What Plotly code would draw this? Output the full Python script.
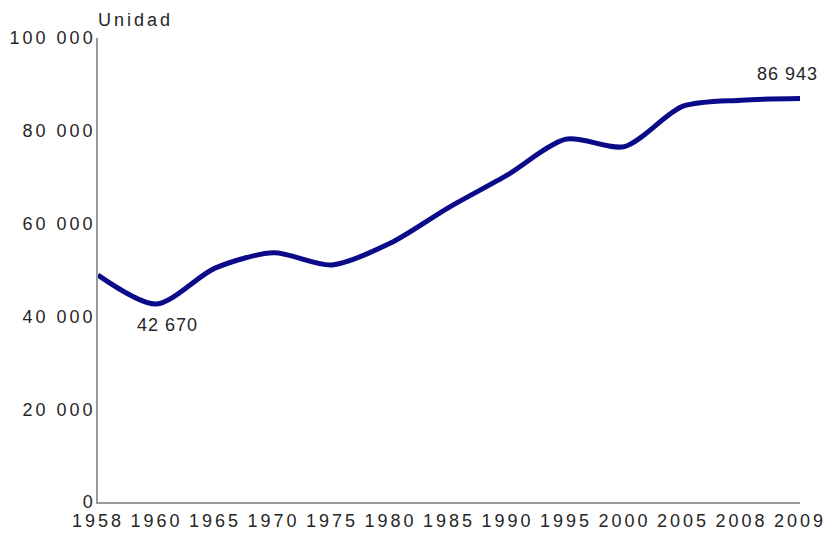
import plotly.graph_objects as go

FONT = "Liberation Sans, Arial, sans-serif"
TEXT = "#262626"

years = ["1958", "1960", "1965", "1970", "1975", "1980", "1985",
         "1990", "1995", "2000", "2005", "2008", "2009"]
units = [48900, 42670, 50400, 53700, 51100, 55800, 63500,
         70500, 78200, 76600, 85300, 86600, 86943]

y_ticks = [0, 20000, 40000, 60000, 80000, 100000]
y_labels = ["0", "20 000", "40 000", "60 000", "80 000", "100 000"]


def spaced(s: str, px: int = 3) -> str:
    return f'<span style="letter-spacing:{px}px">{s}</span>'


fig = go.Figure(
    go.Scatter(
        x=years, y=units,
        mode="lines",
        line=dict(color="#0b0b8a", width=5, shape="spline", smoothing=0.8),
        cliponaxis=False,
        hoverinfo="x+y",
    )
)

# category axis: annotations placed by category index
fig.add_annotation(x=1, y=units[1], text=spaced("42 670", 1),
                   showarrow=False, xshift=11, yshift=-21)
fig.add_annotation(x=len(years) - 1, y=units[-1], text=spaced("86 943", 1),
                   showarrow=False, xshift=-13, yshift=25)
fig.add_annotation(x=0, y=1, xref="paper", yref="paper", text=spaced("Unidad", 3),
                   showarrow=False, xanchor="left", yanchor="bottom", yshift=6, xshift=-2)

# page body adds an 8px margin, so the figure is 8px smaller each way
fig.update_layout(
    width=824, height=525,
    margin=dict(l=90, r=32, t=30, b=31, autoexpand=False),
    paper_bgcolor="white", plot_bgcolor="white",
    font=dict(family=FONT, size=18, color=TEXT),
    showlegend=False,
    xaxis=dict(
        type="category", range=[0, len(years) - 1],
        tickvals=years, ticktext=[spaced(y) for y in years],
        showgrid=False, zeroline=False, showline=True,
        linecolor="#999999", linewidth=1.5, ticks="",
        ticklabelstandoff=2, automargin=False,
    ),
    yaxis=dict(
        range=[0, 100000],
        tickvals=y_ticks, ticktext=[spaced(t) for t in y_labels],
        showgrid=False, zeroline=False, showline=True,
        linecolor="#999999", linewidth=1.5, ticks="",
        ticklabelstandoff=-3, automargin=False,
    ),
)

fig.write_html("out.html")
